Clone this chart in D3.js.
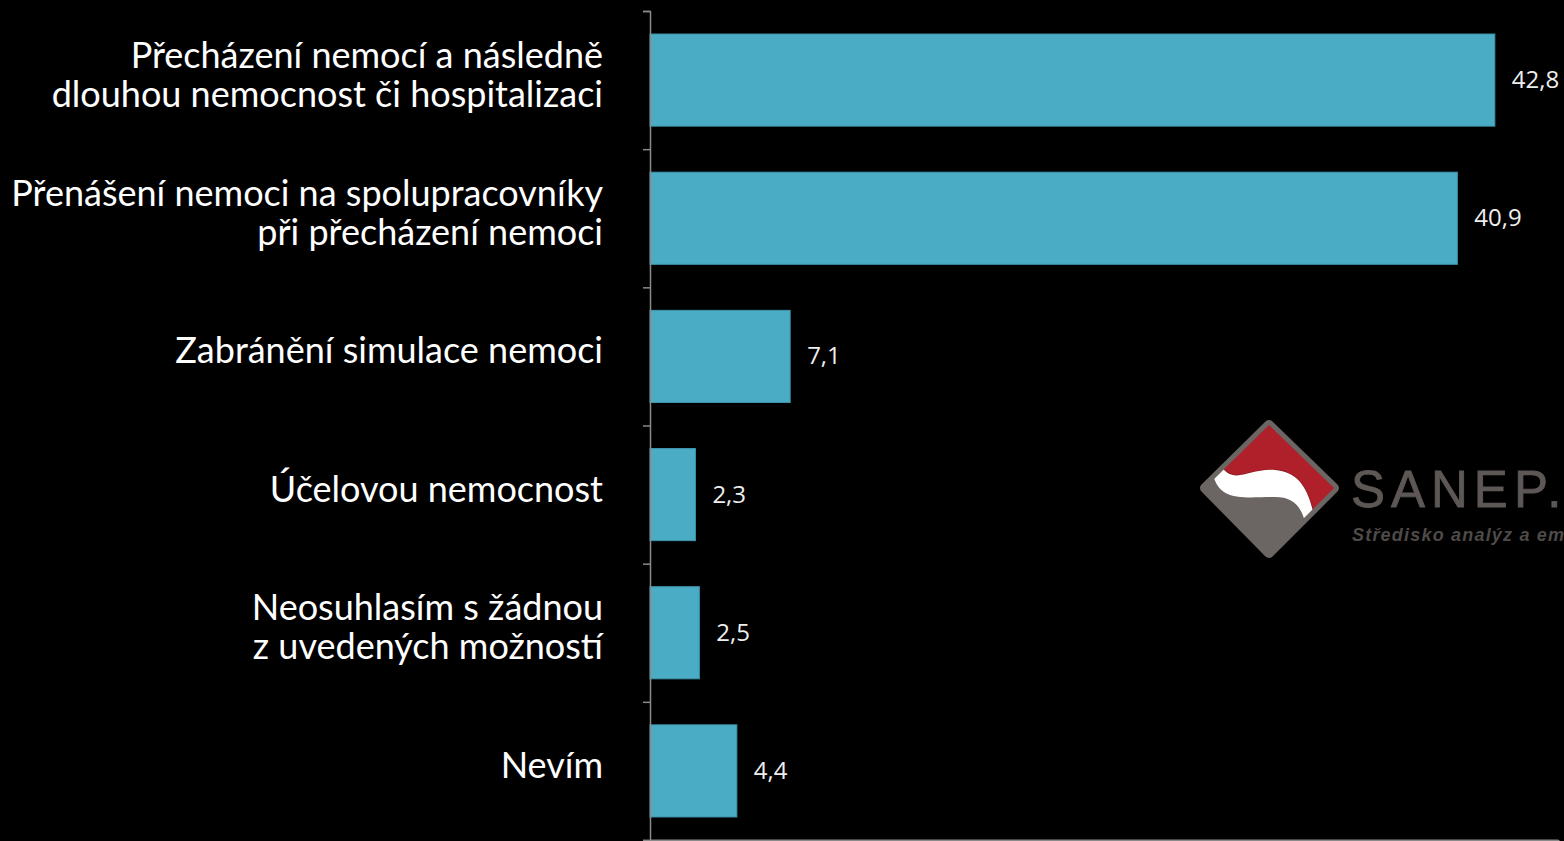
<!DOCTYPE html>
<html><head><meta charset="utf-8">
<script src="https://cdn.jsdelivr.net/npm/d3@7"></script>
<style>html,body{margin:0;padding:0;background:#000;overflow:hidden}</style>
</head><body>
<script>
const categories = [
  "Přecházení nemocí a následně\ndlouhou nemocnost či hospitalizaci",
  "Přenášení nemoci na spolupracovníky\npři přecházení nemoci",
  "Zabránění simulace nemoci",
  "Účelovou nemocnost",
  "Neosuhlasím s žádnou\nz uvedených možností",
  "Nevím"
];
const values = [42.8, 40.9, 7.1, 2.3, 2.5, 4.4];
const valueLabels = ["42,8", "40,9", "7,1", "2,3", "2,5", "4,4"];
const xTicks = [0, 11.5, 23, 34.5, 46];

const W = 1564, H = 841;
const svg = d3.select("body").append("svg").attr("width", W).attr("height", H)
  .style("background", "#000");

const x = d3.scaleLinear().domain([0, 46]).range([650, 1558]);
const y = d3.scaleBand().domain(categories).range([11, 840]).paddingInner(1/3).paddingOuter(1/6);

// bars
svg.append("g").selectAll("rect").data(values).join("rect")
  .attr("x", x(0)).attr("y", (d, i) => y(categories[i]))
  .attr("width", d => x(d) - x(0)).attr("height", y.bandwidth())
  .attr("fill", "#4bacc6").attr("stroke", "#3f95ad").attr("stroke-width", 1);

// value labels
svg.append("g").selectAll("text").data(values).join("text")
  .attr("x", d => x(d) + 17)
  .attr("y", (d, i) => y(categories[i]) + y.bandwidth() / 2 + 8)
  .attr("fill", "#eeeeee").attr("font-family", "'Open Sans', sans-serif").attr("font-size", 24)
  .text((d, i) => valueLabels[i]);

// y axis
const yAxisScale = d3.scaleLinear().domain([0, categories.length]).range([11, 840]);
const ya = svg.append("g").attr("transform", `translate(${x(0)},0)`)
  .call(d3.axisLeft(yAxisScale).tickValues(d3.range(0, categories.length + 1)).tickSize(7).tickFormat(""));
ya.selectAll("path,line").attr("stroke", "#8a8a8a").attr("stroke-width", 1.5);

// x axis
const xa = svg.append("g").attr("transform", `translate(0,840)`)
  .call(d3.axisBottom(x).tickValues(xTicks).tickSize(5).tickSizeOuter(0).tickFormat(""));
xa.selectAll("path,line").attr("stroke", "#8a8a8a").attr("stroke-width", 2);

// category labels
const lg = svg.append("g");
categories.forEach(c => {
  const lines = c.split("\n");
  const cy = y(c) + y.bandwidth() / 2;
  const lh = 39;
  const t = lg.append("text").attr("text-anchor", "end").attr("fill", "#ffffff")
    .attr("font-family", "Lato, sans-serif").attr("font-size", 36);
  lines.forEach((ln, k) => {
    t.append("tspan").attr("x", 603)
      .attr("y", cy + 7 + (k - (lines.length - 1) / 2) * lh)
      .text(ln);
  });
});

// SANEP logo (decoration)
const logo = svg.append("g");
const defs = svg.append("defs");
const diamond = "M1269,425 L1334,488 L1269,553 L1205,488 Z";
defs.append("clipPath").attr("id", "dclip").append("path").attr("d", diamond)
  .attr("stroke", "#000").attr("stroke-width", 10).attr("stroke-linejoin", "round");
logo.append("path").attr("d", diamond).attr("fill", "#6b6563")
  .attr("stroke", "#6b6563").attr("stroke-width", 10).attr("stroke-linejoin", "round");
const lg2 = logo.append("g").attr("clip-path", "url(#dclip)");
lg2.append("path")
  .attr("d", "M1190,462 L1218,462 C1234,488 1246,468 1275,470 C1300,472 1310,490 1316,526 L1350,526 L1350,405 L1190,405 Z")
  .attr("fill", "#b0202a").attr("stroke", "#8e1a20").attr("stroke-width", 1.5);
lg2.append("path")
  .attr("d", "M1190,462 L1218,462 C1234,488 1246,468 1275,470 C1300,472 1310,490 1316,526 L1306,526 C1302,508 1295,497 1275,497 C1245,497 1222,502 1214,478 L1190,478 Z")
  .attr("fill", "#ffffff");
logo.append("text").attr("x", 1351).attr("y", 507)
  .attr("font-family", "'Liberation Sans', Arial, sans-serif").attr("font-size", 51)
  .attr("letter-spacing", 6).attr("stroke", "#5d5856").attr("stroke-width", 0.8)
  .attr("fill", "#5d5856").text("SANEP.");
logo.append("text").attr("x", 1352).attr("y", 541)
  .attr("font-family", "'Liberation Sans', Arial, sans-serif").attr("font-style", "italic").attr("font-weight", "bold")
  .attr("font-size", 18).attr("letter-spacing", 1.2).attr("fill", "#4e4a48").text("Středisko analýz a empirických modelování");
</script>
</body></html>
